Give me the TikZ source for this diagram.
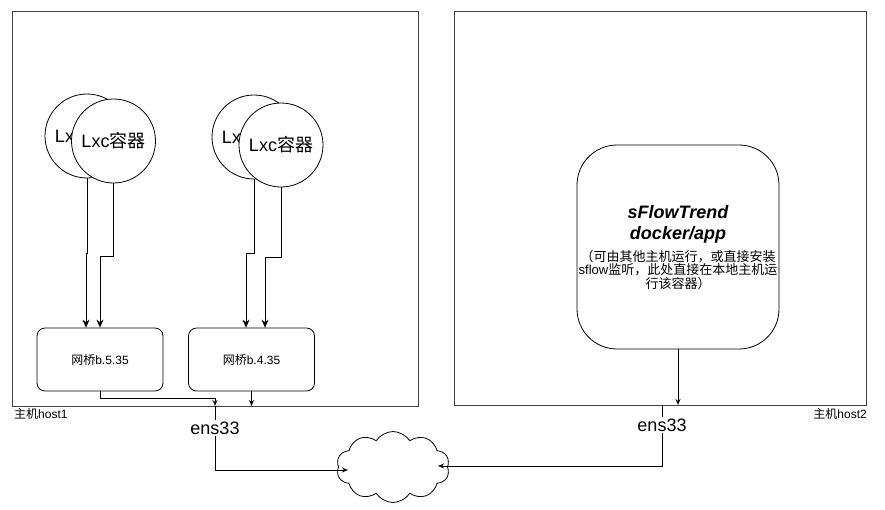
\documentclass[tikz,border=0pt]{standalone}
\usepackage{fontspec}
\setmainfont{Liberation Sans}
\newfontfamily\cjk{Noto Sans CJK SC}
\usetikzlibrary{arrows.meta,shapes.symbols}
\newcommand\zh[1]{{\cjk #1}}
\begin{document}
\begin{tikzpicture}[x=1pt,y=-1pt,
  hostbox/.style={draw=black!75,line width=1pt},
  circ/.style={circle,draw,fill=white,minimum size=84pt,inner sep=0pt,line width=0.8pt,font=\fontsize{18}{20}\selectfont},
  bridge/.style={draw,rounded corners=8pt,fill=white,minimum width=126pt,minimum height=63pt,line width=0.8pt,font=\fontsize{12}{14}\selectfont},
  arr/.style={-{Stealth[length=8pt,width=7pt]},line width=0.8pt},
  oarr/.style={-{Stealth[open,length=6pt,width=5pt]},line width=0.8pt},
  lbl/.style={fill=white,inner sep=1pt,font=\fontsize{18}{20}\selectfont},
  small/.style={font=\fontsize{12}{14}\selectfont}
]
\useasboundingbox (0,0) rectangle (885,509);
% hosts
\node[hostbox,minimum width=406pt,minimum height=395pt,inner sep=0pt] (host1) at (215,208.5) {};
\node[hostbox,minimum width=412pt,minimum height=394pt,inner sep=0pt] (host2) at (660,208) {};
\node[small,anchor=west,inner sep=0pt] (h1lbl) at (14,414) {\zh{主机}host1};
\node[small,anchor=east,inner sep=0pt] (h2lbl) at (867,414) {\zh{主机}host2};
% containers
\node[circ] (c1b) at (87,136) {Lxc\zh{容器}};
\node[circ] (c1f) at (113.5,141) {Lxc\zh{容器}};
\node[circ] (c2b) at (254,137) {Lxc\zh{容器}};
\node[circ] (c2f) at (281,145) {Lxc\zh{容器}};
% bridges
\node[bridge] (b1) at (100,359.5) {\zh{网桥}b.5.35};
\node[bridge] (b2) at (251.5,359.5) {\zh{网桥}b.4.35};
% container links
\draw[arr] (c1b.south) -- (87,253) -- (86,253) -- (86,0 |- b1.north);
\draw[arr] (c1f.south) -- (113.5,256) -- (100,256) -- (100,0 |- b1.north);
\draw[arr] (c2b.south) -- (254,253) -- (246,253) -- (246,0 |- b2.north);
\draw[arr] (c2f.south) -- (281,257) -- (265,257) -- (265,0 |- b2.north);
% bridges to host1 nic
\coordinate (h1e) at (215,406);
\draw[oarr] (b1.south) |- (215,398.7) -- (h1e);
\draw[oarr] (b2.south) -- (b2.south |- h1e);
% sflow box
\node[draw,rounded corners=40pt,minimum width=202pt,minimum height=204pt,line width=0.8pt] (sf) at (678,247) {};
\node[font=\fontsize{18}{20}\selectfont\bfseries\itshape,inner sep=0pt] (t1) at (678,212) {sFlowTrend};
\node[font=\fontsize{18}{20}\selectfont\bfseries\itshape,inner sep=0pt] (t2) at (678,235) {docker/app};
\node[font=\fontsize{13}{13.5}\selectfont,align=center,inner sep=0pt] (t3) at (678,270)
  {\zh{（可由其他主机运行，或直接安装}\\sflow\zh{监听，此处直接在本地主机运}\\\zh{行该容器）}};
\coordinate (h2b) at (678,405);
\draw[oarr] (sf.south) -- (h2b);
% cloud
\node[cloud,draw,cloud puffs=10,cloud puff arc=115,aspect=1.6,minimum width=113pt,minimum height=71pt,inner sep=0pt,line width=0.8pt] (cl) at (393,467) {};
\coordinate (clw) at (348,470);
\coordinate (cle) at (438,466);
% ens33
\node[lbl] (e1) at (215,428) {ens33};
\node[lbl] (e2) at (662,425) {ens33};
\coordinate (h2e) at (662,405);
\draw[line width=0.8pt] (h1e) -- (e1);
\draw[oarr] (e1) |- (clw);
\draw[line width=0.8pt] (h2e) -- (e2);
\draw[oarr] (e2) |- (cle);
\end{tikzpicture}
\end{document}
